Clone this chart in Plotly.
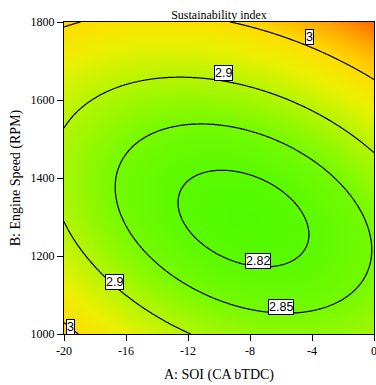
import numpy as np
import plotly.graph_objects as go

# Response-surface model (coded factors a=(A+10)/10, b=(B-1400)/400)
coef_names = ["const", "a", "b", "ab", "a2", "b2"]
coef_values = [2.8170, -0.0054, 0.0549, 0.060, 0.0665, 0.1238]

soi_range = [-20, 0]
speed_range = [1000, 1800]
contour_levels = [2.82, 2.85, 2.9, 3.0]

x_ticks = [-20, -16, -12, -8, -4, 0]
y_ticks = [1000, 1200, 1400, 1600, 1800]

label_text = ["3", "2.9", "2.82", "2.9", "2.85", "3"]
label_soi = [-4.13, -9.74, -7.48, -16.77, -6.0, -19.55]
label_speed = [1762, 1669, 1187, 1133, 1069, 1018]

A = np.linspace(soi_range[0], soi_range[1], 241)
B = np.linspace(speed_range[0], speed_range[1], 241)
AA, BB = np.meshgrid(A, B)
a = (AA + 10) / 10
b = (BB - 1400) / 400
c = dict(zip(coef_names, coef_values))
Z = c["const"] + c["a"] * a + c["b"] * b + c["ab"] * a * b + c["a2"] * a ** 2 + c["b2"] * b ** 2

zmin, zmax = 2.805, 3.125
stops = [(2.805, "rgb(78,250,0)"), (2.85, "rgb(118,250,0)"), (2.9, "rgb(182,245,0)"),
         (2.95, "rgb(235,240,0)"), (3.0, "rgb(255,220,0)"), (3.06, "rgb(255,168,0)"),
         (3.125, "rgb(255,95,0)")]
colorscale = [[(v - zmin) / (zmax - zmin), col] for v, col in stops]

fig = go.Figure()
fig.add_trace(go.Heatmap(x=A, y=B, z=Z, colorscale=colorscale, zmin=zmin, zmax=zmax,
                         zsmooth="best", showscale=False, hoverinfo="skip"))
for lev in contour_levels:
    fig.add_trace(go.Contour(x=A, y=B, z=Z, autocontour=False,
                             contours=dict(start=lev, end=lev, size=1, coloring="none"),
                             line=dict(color="black", width=1.2), showscale=False,
                             hoverinfo="skip"))

for t, xa, yb in zip(label_text, label_soi, label_speed):
    fig.add_annotation(x=xa, y=yb, text=t, showarrow=False,
                       font=dict(family="Liberation Sans", size=12.5, color="black"),
                       bgcolor="white", bordercolor="black", borderwidth=1, borderpad=0)

serif = "Liberation Serif"
fig.update_layout(
    width=376, height=385,
    margin=dict(l=64, r=2, t=22, b=51, autoexpand=False),
    paper_bgcolor="white", plot_bgcolor="white",
    showlegend=False,
    title=dict(text="Sustainability index", x=0.5, xanchor="center", xref="paper",
               y=1, yref="paper", yanchor="bottom", pad=dict(b=3),
               font=dict(family=serif, size=12, color="black")),
    font=dict(family=serif, size=12, color="black"),
)
fig.update_xaxes(range=soi_range, tickvals=x_ticks, ticktext=[str(v) for v in x_ticks],
                 ticks="outside", ticklen=6, tickcolor="black", showgrid=False, automargin=False,
                 ticklabeloverflow="allow",
                 zeroline=False, showline=True, linecolor="black", linewidth=1, mirror=True,
                 title=dict(text="A: SOI (CA bTDC)", font=dict(family=serif, size=14), standoff=11),
                 tickfont=dict(family=serif, size=12))
fig.update_yaxes(range=speed_range, tickvals=y_ticks, ticktext=[str(v) for v in y_ticks],
                 ticks="outside", ticklen=6, tickcolor="black", showgrid=False, automargin=False,
                 ticklabeloverflow="allow",
                 zeroline=False, showline=True, linecolor="black", linewidth=1, mirror=True,
                 title=dict(text="B: Engine Speed (RPM)", font=dict(family=serif, size=14), standoff=6),
                 tickfont=dict(family=serif, size=12))

fig.write_html("out.html", config={"displayModeBar": False},
               post_script="document.body.style.margin='0';document.body.style.overflow='hidden';")
